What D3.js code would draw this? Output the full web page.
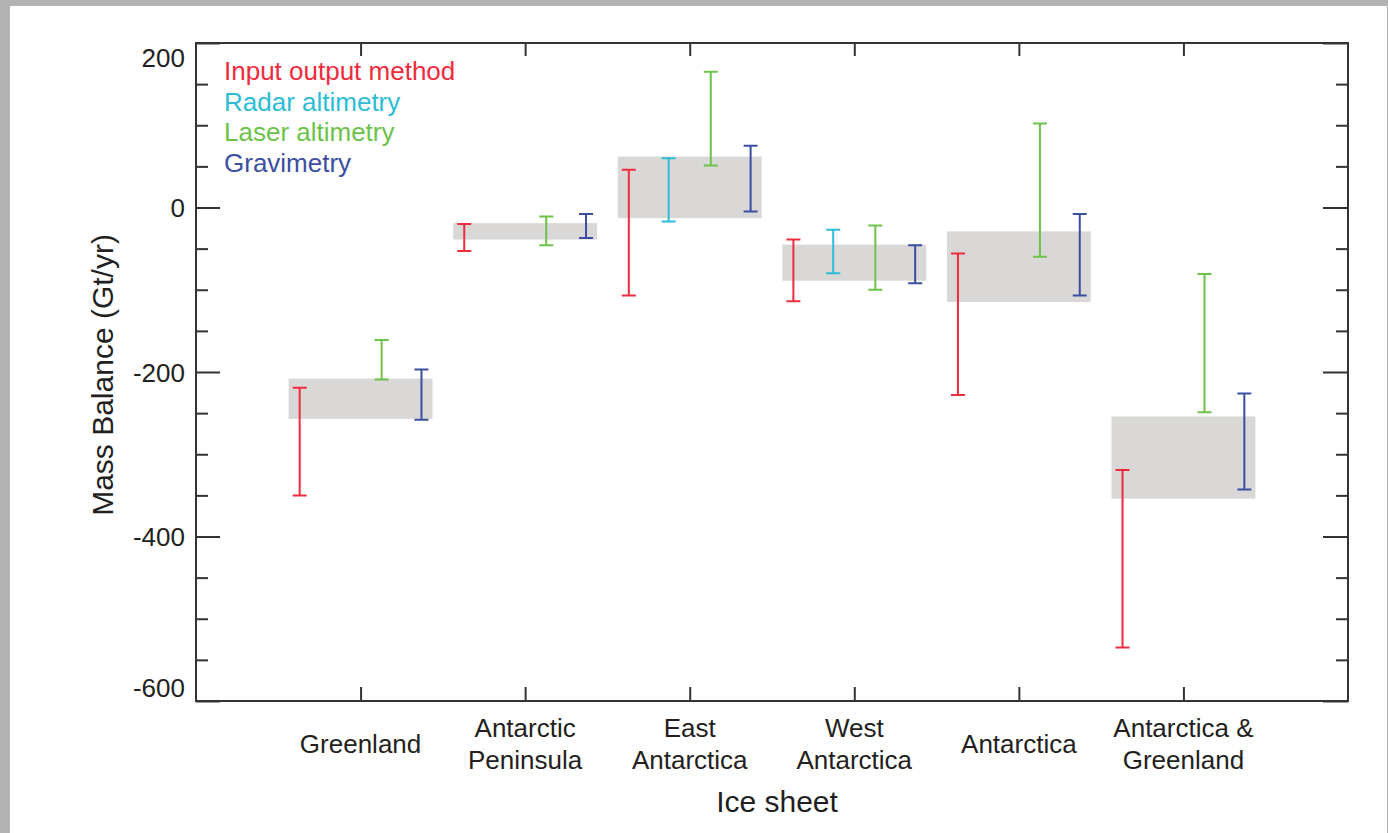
<!DOCTYPE html>
<html>
<head>
<meta charset="utf-8">
<script src="https://cdn.jsdelivr.net/npm/d3@7"></script>
<style>
  html, body { margin: 0; padding: 0; background: #b3b3b3; }
  #page { position: absolute; left: 10px; top: 6px; width: 1377px; height: 827px; background: #fff; }
  svg { position: absolute; left: 0; top: 0; }
  text { font-family: "Liberation Sans", Arial, Helvetica, sans-serif; fill: #231f20; }
</style>
</head>
<body>
<div id="page"></div>
<script>
// ice sheets (categories) and their axis label lines
const sheets = ["Greenland", "Antarctic Peninsula", "East Antarctica", "West Antarctica", "Antarctica", "Antarctica & Greenland"];
const sheetLines = [["Greenland"], ["Antarctic", "Peninsula"], ["East", "Antarctica"], ["West", "Antarctica"], ["Antarctica"], ["Antarctica &", "Greenland"]];

// methods (legend)
const methods = ["Input output method", "Radar altimetry", "Laser altimetry", "Gravimetry"];
const methodColors = ["#ef2b3d", "#2dbcd6", "#6cc24a", "#3b4ea2"];

// mass balance ranges, Gt/yr (null = no estimate)
const iomLow = [-350, -53, -107, -114, -228, -535];
const iomHigh = [-219, -20, 46, -39, -56, -319];
const radarLow = [null, null, -17, -80, null, null];
const radarHigh = [null, null, 60, -27, null, null];
const laserLow = [-209, -46, 51, -100, -60, -249];
const laserHigh = [-161, -11, 165, -22, 102, -81];
const gravLow = [-258, -37, -5, -92, -107, -343];
const gravHigh = [-197, -8, 75, -46, -8, -226];

// reconciled estimate (gray boxes)
const reconLow = [-257, -39, -13, -89, -115, -354];
const reconHigh = [-208, -19, 62, -45, -29, -254];

const yMajor = [200, 0, -200, -400, -600];
const yMinor = [150, 100, 50, -50, -100, -150, -250, -300, -350, -450, -500, -550];

const lows = [iomLow, radarLow, laserLow, gravLow];
const highs = [iomHigh, radarHigh, laserHigh, gravHigh];

const W = 1377, H = 827;
// svg is inside the white page, offset by (10,6)
const margin = { left: 186, top: 37, right: W - 1338, bottom: H - 695 };
const iw = W - margin.left - margin.right;
const ih = H - margin.top - margin.bottom;

const svg = d3.select("#page").append("svg").attr("width", W).attr("height", H);
const g = svg.append("g").attr("transform", "translate(" + margin.left + "," + margin.top + ")");

const x = d3.scaleLinear().domain([0, sheets.length + 1]).range([0, iw]);
const y = d3.scaleLinear().domain([-600, 200]).range([ih, 0]);

const offsets = [-0.37, -0.128, 0.128, 0.37];
const boxHalf = 0.437;
const capW = 7;

// reconciled boxes
g.selectAll(".recon")
  .data(sheets)
  .enter()
  .append("rect")
  .attr("class", "recon")
  .attr("x", (d, i) => x(i + 1 - boxHalf))
  .attr("width", (d, i) => x(i + 1 + boxHalf) - x(i + 1 - boxHalf))
  .attr("y", (d, i) => y(reconHigh[i]))
  .attr("height", (d, i) => y(reconLow[i]) - y(reconHigh[i]))
  .attr("fill", "#d9d8d7");

// error bars
methods.forEach(function(m, k) {
  const pts = sheets
    .map((s, i) => ({ i: i, lo: lows[k][i], hi: highs[k][i] }))
    .filter(d => d.lo !== null);
  const bars = g.append("g").attr("class", "method-" + k)
    .attr("stroke", methodColors[k])
    .attr("stroke-width", 2)
    .attr("fill", "none");
  bars.selectAll("path")
    .data(pts)
    .enter()
    .append("path")
    .attr("d", function(d) {
      const cx = x(d.i + 1 + offsets[k]);
      const y1 = y(d.hi), y2 = y(d.lo);
      return "M" + (cx - capW) + "," + y1 + "H" + (cx + capW) +
        "M" + cx + "," + y1 + "V" + y2 +
        "M" + (cx - capW) + "," + y2 + "H" + (cx + capW);
    });
});

// axes (ticks pointing inward)
function styleAxis(sel) {
  sel.select(".domain").remove();
  sel.selectAll(".tick line").attr("stroke", "#333").attr("stroke-width", 2);
}

g.append("g").call(d3.axisLeft(y).tickValues(yMinor).tickSize(-12).tickFormat("")).call(styleAxis);
g.append("g").attr("transform", "translate(" + iw + ",0)")
  .call(d3.axisRight(y).tickValues(yMinor).tickSize(-12).tickFormat("")).call(styleAxis);
g.append("g").attr("transform", "translate(" + iw + ",0)")
  .call(d3.axisRight(y).tickValues(yMajor).tickSize(-25).tickFormat("")).call(styleAxis);

const yAxis = g.append("g")
  .call(d3.axisLeft(y).tickValues(yMajor).tickSize(-24).tickPadding(11).tickFormat(d => String(d)))
  .call(styleAxis);
yAxis.selectAll("text")
  .attr("font-size", 26)
  .attr("font-family", "Liberation Sans, Arial, sans-serif")
  .attr("fill", "#231f20")
  .attr("dy", d => d === 200 ? "0.92em" : d === -600 ? "-0.18em" : "0.35em");

const ticksX = d3.range(1, sheets.length + 1);
g.append("g").call(d3.axisTop(x).tickValues(ticksX).tickSize(-13).tickFormat("")).call(styleAxis);
const xAxis = g.append("g").attr("transform", "translate(0," + ih + ")")
  .call(d3.axisBottom(x).tickValues(ticksX).tickSize(-14).tickFormat("")).call(styleAxis);

// category labels (one or two lines)
xAxis.selectAll(".cat")
  .data(sheetLines)
  .enter()
  .append("text")
  .attr("class", "cat")
  .attr("x", (d, i) => x(i + 1))
  .attr("y", d => d.length === 1 ? 52 : 36)
  .attr("text-anchor", "middle")
  .attr("font-size", 26)
  .selectAll("tspan")
  .data(d => d)
  .enter()
  .append("tspan")
  .attr("x", function() { return d3.select(this.parentNode).attr("x"); })
  .attr("dy", (d, j) => j === 0 ? 0 : 31.5)
  .text(d => d);

// frame
g.append("rect")
  .attr("width", iw)
  .attr("height", ih)
  .attr("fill", "none")
  .attr("stroke", "#333")
  .attr("stroke-width", 2);

// legend
g.selectAll(".legend")
  .data(methods)
  .enter()
  .append("text")
  .attr("class", "legend")
  .attr("x", 28)
  .attr("y", (d, i) => 37 + i * 30.6)
  .attr("font-size", 26)
  .style("fill", (d, i) => methodColors[i])
  .text(d => d);

// axis titles
svg.append("text")
  .attr("transform", "translate(103,369) rotate(-90)")
  .attr("text-anchor", "middle")
  .attr("font-size", 30)
  .text("Mass Balance (Gt/yr)");

svg.append("text")
  .attr("x", margin.left + iw / 2 + 5)
  .attr("y", 806)
  .attr("text-anchor", "middle")
  .attr("font-size", 30)
  .text("Ice sheet");
</script>
</body>
</html>
